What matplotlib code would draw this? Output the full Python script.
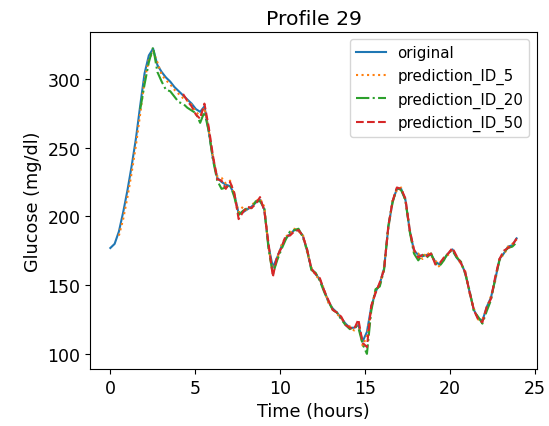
import numpy as np
import matplotlib
matplotlib.use("Agg")
import matplotlib.pyplot as plt

# glucose readings, sampled every ~15 min over the day
original = [177, 180, 189, 203, 219, 237, 257, 281, 304, 317, 322, 310,
            305, 301, 298, 294, 291, 288, 285, 282, 278, 276, 280, 262,
            242, 228, 225, 223, 222, 216, 202, 203, 205, 207, 210, 212,
            205, 178, 163, 170, 178, 184, 187, 190, 190, 186, 175, 162,
            158, 154, 146, 138, 133, 130, 126, 122, 119, 119, 121, 109,
            116, 134, 145, 151, 162, 192, 211, 220, 220, 212, 190, 175,
            172, 171, 172, 172, 167, 165, 169, 173, 176, 170, 166, 159,
            145, 132, 126, 124, 134, 141, 154, 169, 173, 178, 179, 184]

# predictions start later (index into the sample grid)
pred5_start = 2
pred5 = [186, 198, 214, 232, 252, 275, 299, 314, 320, 312,
         303, 299, 296, 292, 289, 286, 284, 281, 276, 273, 279, 263,
         243, 229, 228, 224, 226, 215, 203, 207, 204, 208, 211, 213,
         207, 177, 160, 169, 179, 185, 188, 191, 189, 187, 174, 163,
         157, 154, 147, 137, 133, 129, 126, 121, 120, 117, 123, 106,
         113, 133, 146, 150, 163, 191, 212, 219, 221, 211, 191, 174,
         173, 169, 174, 171, 168, 163, 170, 172, 176, 171, 165, 160,
         144, 133, 125, 125, 133, 142, 153, 170, 172, 178, 180, 183]

pred20_start = 7
pred20 = [278, 296, 312, 323, 305,
          298, 292, 291, 287, 283, 282, 279, 277, 275, 268, 276, 262,
          241, 226, 220, 221, 223, 214, 201, 204, 206, 206, 211, 211,
          206, 176, 158, 168, 176, 183, 189, 190, 191, 185, 176, 161,
          159, 153, 145, 138, 132, 130, 125, 121, 118, 120, 119, 107,
          100, 131, 147, 149, 161, 193, 210, 221, 219, 212, 189, 173,
          168, 172, 170, 173, 166, 164, 168, 174, 175, 170, 167, 158,
          146, 131, 127, 122, 131, 139, 155, 168, 174, 177, 178, 181]

pred50_start = 17
pred50 = [289, 284, 280, 274, 271, 282, 265,
          244, 227, 226, 220, 225, 217, 198, 203, 207, 206, 209, 214,
          204, 180, 156, 171, 177, 186, 186, 189, 190, 186, 176, 162,
          158, 155, 146, 139, 132, 130, 127, 121, 119, 118, 125, 108,
          105, 135, 144, 152, 161, 193, 211, 221, 220, 213, 190, 176,
          170, 172, 171, 173, 165, 166, 170, 173, 177, 171, 166, 159,
          145, 132, 125, 123, 134, 140, 156, 169, 175, 177, 179, 184]

time = np.linspace(0, 23.92, len(original))

fig = plt.figure(figsize=(5.49, 4.27), dpi=100)
ax = fig.add_axes([0.164, 0.133, 0.814, 0.79])

ax.plot(time, original, label="original")
ax.plot(time[pred5_start:], pred5, ':', label="prediction_ID_5")
ax.plot(time[pred20_start:], pred20, '-.', label="prediction_ID_20")
ax.plot(time[pred50_start:], pred50, '--', label="prediction_ID_50")

ax.set_title("Profile 29", fontsize=14.7)
ax.set_xlabel("Time (hours)", fontsize=12.7)
ax.set_ylabel("Glucose (mg/dl)", fontsize=12.7)
ax.tick_params(labelsize=12.5)
ax.set_xticks([0, 5, 10, 15, 20, 25])
ax.set_yticks([100, 150, 200, 250, 300])
ax.legend(loc="upper right", fontsize=10.8)

fig.savefig("out.png", dpi=100)
